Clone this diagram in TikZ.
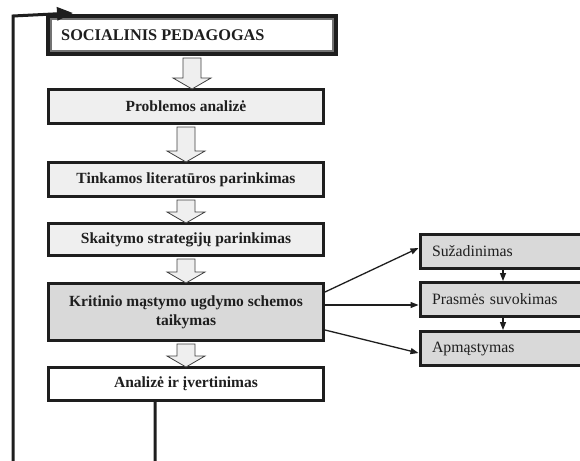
\documentclass[tikz,border=0pt]{standalone}
\usepackage{fontspec}
\setmainfont{Liberation Serif}
\usetikzlibrary{arrows.meta,calc}
\definecolor{lightbox}{HTML}{EFEFEF}
\definecolor{darkbox}{HTML}{D9D9D9}
\definecolor{inkc}{HTML}{1E1E1E}
\begin{document}
\begin{tikzpicture}[x=1pt,y=-1pt,
  mainbox/.style={draw=inkc,line width=3pt,minimum width=275pt,inner sep=2pt,align=center,
    font=\fontsize{15.5}{19}\selectfont\bfseries,text=inkc},
  sidebox/.style={draw=inkc,line width=3pt,fill=darkbox,text width=146pt,inner xsep=12pt,
    align=left,minimum height=34pt,font=\fontsize{15.8}{19}\selectfont,text=inkc},
  fatarr/.style={draw=black!75,line width=0.8pt,fill=lightbox},
  thinarr/.style={draw=inkc,line width=1.3pt,-{Triangle[length=8pt,width=6pt]}},
  looparr/.style={draw=inkc,line width=3pt,-{Triangle[length=16pt,width=13pt]}}
]
\useasboundingbox (0,0) rectangle (580,460);

% title box
\node[draw=inkc,line width=4pt,fill=white,minimum width=288pt,minimum height=38pt,inner sep=0pt]
  (title) at (192,35) {};
\draw[black!55,line width=1.4pt] ($(title.north west)+(5pt,-5pt)$) rectangle ($(title.south east)+(-5pt,5pt)$);
\node[anchor=west,font=\fontsize{16.3}{19}\selectfont\bfseries,text=inkc,inner sep=0pt]
  (titletext) at (61,35) {SOCIALINIS PEDAGOGAS};

% main column
\node[mainbox,fill=lightbox,minimum height=34pt] (prob) at (186,106.5) {Problemos analizė};
\node[mainbox,fill=lightbox,minimum height=34pt] (tink) at (186,179.5) {Tinkamos literatūros parinkimas};
\node[mainbox,fill=lightbox,minimum height=32pt] (skait) at (186,239.5) {Skaitymo strategijų parinkimas};
\node[mainbox,fill=darkbox,minimum height=57pt] (krit) at (186,312) {Kritinio mąstymo ugdymo schemos\\taikymas};
\node[mainbox,fill=white,minimum height=33pt] (anal) at (186,384) {Analizė ir įvertinimas};

% hollow arrows
\newcommand{\fatarrow}[2]{%
  \draw[fatarr] let \p1=(#1.south), \p2=(#2.north) in
    (\x1-9pt,\y1-2pt) -- (\x1+9pt,\y1-2pt) -- (\x1+9pt,\y2+10pt) -- (\x1+19pt,\y2+10pt)
    -- (\x1,\y2-1pt) -- (\x1-19pt,\y2+10pt) -- (\x1-9pt,\y2+10pt) -- cycle;}
\fatarrow{title}{prob}
\fatarrow{prob}{tink}
\fatarrow{tink}{skait}
\fatarrow{skait}{krit}
\fatarrow{krit}{anal}

% side boxes
\node[sidebox] (suz) at (505,251.5) {Sužadinimas};
\node[sidebox] (pra) at (505,299.5) {Prasmės suvokimas};
\node[sidebox] (apm) at (505,348.5) {Apmąstymas};

\draw[thinarr] ([yshift=20pt]krit.east) -- ([yshift=3.5pt]suz.west);
\draw[thinarr] ([yshift=7pt]krit.east) -- ([yshift=-5.5pt]pra.west);
\draw[thinarr] ([yshift=-18pt]krit.east) -- ([yshift=-4.5pt]apm.west);
\draw[thinarr] ([xshift=-2pt]suz.south) -- ([xshift=-2pt]pra.north);
\draw[thinarr] ([xshift=-2pt]pra.south) -- ([xshift=-2pt]apm.north);

% feedback loop
\coordinate (loopbottom) at (13,462.5);
\coordinate (loopcorner) at (13,16);
\coordinate (looptip) at (73,13);
\draw[looparr] ([xshift=-31pt]anal.south) |- (loopbottom) -- (loopcorner) -- (looptip);
\end{tikzpicture}
\end{document}
